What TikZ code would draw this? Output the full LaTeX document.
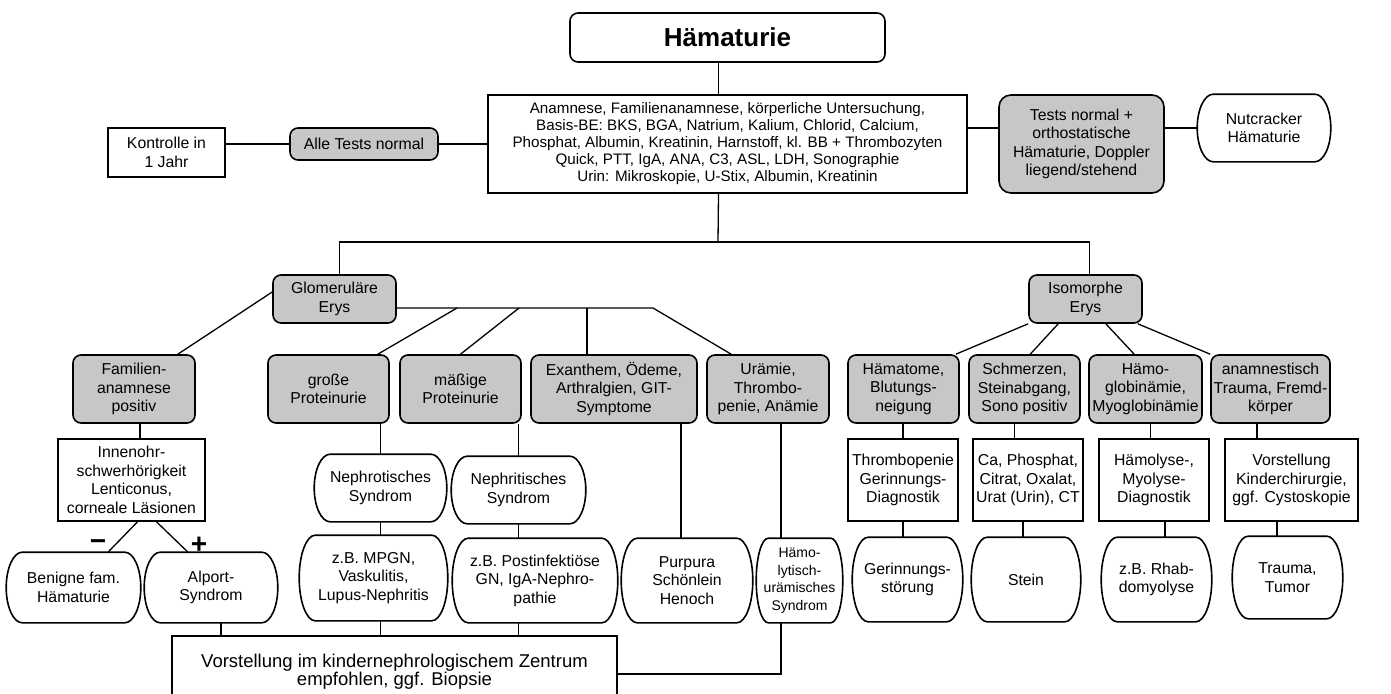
\documentclass[tikz,border=0pt]{standalone}
\usepackage{fontspec}
\setmainfont{Liberation Sans}
\usetikzlibrary{calc}

\newcommand\pillframe[2]{%
  \draw[line width=1.6pt] ([xshift=#2]#1.north west) -- ([xshift=-#2]#1.north east)
    .. controls ([xshift=-0.45*#2]#1.north east) and ($(#1.east)!0.55!(#1.north east)$) .. (#1.east)
    .. controls ($(#1.east)!0.55!(#1.south east)$) and ([xshift=-0.45*#2]#1.south east) .. ([xshift=-#2]#1.south east)
    -- ([xshift=#2]#1.south west)
    .. controls ([xshift=0.45*#2]#1.south west) and ($(#1.west)!0.55!(#1.south west)$) .. (#1.west)
    .. controls ($(#1.west)!0.55!(#1.north west)$) and ([xshift=0.45*#2]#1.north west) .. ([xshift=#2]#1.north west)
    -- cycle;}

\begin{document}
\begin{tikzpicture}[x=1pt,y=-1pt,line width=1.3pt,
    base/.style={draw,line width=1.6pt,align=center,inner sep=2pt,font=\fontsize{15.8}{18.5}\selectfont},
    graybox/.style={base,rounded corners=8pt,fill=black!22},
    whitebox/.style={base},
    pill/.style={base,draw=none},
    sign/.style={font=\fontsize{28}{28}\selectfont\bfseries,inner sep=0pt}]
          \useasboundingbox (0,0) rectangle (1391,693);
          \node (title) at (727.5,37.5) [base,rounded corners=8pt,minimum width=315pt,minimum height=49pt,font=\fontsize{26}{30}\selectfont\bfseries]
          {Hämaturie};
          \node (main) at (727.5,144) [whitebox,minimum width=479pt,minimum height=98pt,font=\fontsize{15.2}{17}\selectfont]
          {Anamnese, Familienanamnese, körperliche Untersuchung,\\Basis-BE: BKS, BGA, Natrium, Kalium, Chlorid, Calcium,\\Phosphat, Albumin, Kreatinin, Harnstoff, kl. BB + Thrombozyten\\Quick, PTT, IgA, ANA, C3, ASL, LDH, Sonographie\\Urin: Mikroskopie, U-Stix, Albumin, Kreatinin};
          \node (alle) at (364,144) [graybox,minimum width=148pt,minimum height=32pt]
          {Alle Tests normal};
          \node (kontr) at (166.5,152.5) [whitebox,minimum width=117pt,minimum height=49pt]
          {Kontrolle in\\1 Jahr};
          \node (tests) at (1081.5,144) [graybox,rounded corners=12pt,minimum width=165pt,minimum height=98pt]
          {Tests normal +\\orthostatische\\Hämaturie, Doppler\\liegend/stehend};
          \node (nutc) at (1264,128) [pill,minimum width=132pt,minimum height=66pt]
          {Nutcracker\\Hämaturie};
          \node (glom) at (334.5,299) [graybox,minimum width=123pt,minimum height=48pt]
          {Glomeruläre\\Erys};
          \node (iso) at (1085.5,299) [graybox,minimum width=113pt,minimum height=48pt]
          {Isomorphe\\Erys};
          \node (fam) at (134,389) [graybox,minimum width=122pt,minimum height=68pt]
          {Familien-\\anamnese\\positiv};
          \node (gross) at (328.5,389) [graybox,minimum width=121pt,minimum height=68pt]
          {große\\Proteinurie};
          \node (maessig) at (460.5,389) [graybox,minimum width=121pt,minimum height=68pt]
          {mäßige\\Proteinurie};
          \node (exanth) at (614,389) [graybox,minimum width=166pt,minimum height=68pt]
          {Exanthem, Ödeme,\\Arthralgien, GIT-\\Symptome};
          \node (uraem) at (768,389) [graybox,minimum width=122pt,minimum height=68pt]
          {Urämie,\\Thrombo-\\penie, Anämie};
          \node (haematome) at (903.5,389) [graybox,minimum width=111pt,minimum height=68pt]
          {Hämatome,\\Blutungs-\\neigung};
          \node (schmerz) at (1024.5,389) [graybox,minimum width=111pt,minimum height=68pt]
          {Schmerzen,\\Steinabgang,\\Sono positiv};
          \node (haemo) at (1145.5,389) [graybox,minimum width=113pt,minimum height=68pt]
          {Hämo-\\globinämie,\\Myoglobinämie};
          \node (anamn) at (1270.5,389) [graybox,minimum width=119pt,minimum height=68pt]
          {anamnestisch\\Trauma, Fremd-\\körper};
          \node (innen) at (131.5,480) [whitebox,minimum width=147pt,minimum height=82pt]
          {Innenohr-\\schwerhörigkeit\\Lenticonus,\\corneale Läsionen};
          \node (thromb) at (903,480) [whitebox,minimum width=110pt,minimum height=82pt]
          {Thrombopenie\\Gerinnungs-\\Diagnostik};
          \node (ca) at (1028,480) [whitebox,minimum width=110pt,minimum height=82pt]
          {Ca, Phosphat,\\Citrat, Oxalat,\\Urat (Urin), CT};
          \node (haemol) at (1154,480) [whitebox,minimum width=110pt,minimum height=82pt]
          {Hämolyse-,\\Myolyse-\\Diagnostik};
          \node (vorstk) at (1291.5,480) [whitebox,minimum width=133pt,minimum height=82pt]
          {Vorstellung\\Kinderchirurgie,\\ggf. Cystoskopie};
          \node (nephrot) at (380.5,488) [pill,minimum width=131pt,minimum height=66pt]
          {Nephrotisches\\Syndrom};
          \node (nephrit) at (518.5,490) [pill,minimum width=133pt,minimum height=66pt]
          {Nephritisches\\Syndrom};
          \node (benigne) at (73.5,587.5) [pill,minimum width=133pt,minimum height=69pt]
          {Benigne fam.\\Hämaturie};
          \node (alport) at (211,587.5) [pill,minimum width=132pt,minimum height=69pt]
          {Alport-\\Syndrom};
          \node (mpgn) at (373.5,578) [pill,minimum width=147pt,minimum height=84pt]
          {z.B. MPGN,\\Vaskulitis,\\Lupus-Nephritis};
          \node (postinf) at (535,580.5) [pill,minimum width=164pt,minimum height=83pt]
          {z.B. Postinfektiöse\\GN, IgA-Nephro-\\pathie};
          \node (purpura) at (687,580.5) [pill,minimum width=130pt,minimum height=83pt]
          {Purpura\\Schönlein\\Henoch};
          \node (hus) at (799.5,580.5) [pill,minimum width=85pt,minimum height=83pt,font=\fontsize{14}{17.7}\selectfont]
          {Hämo-\\lytisch-\\urämisches\\Syndrom};
          \node (gerinn) at (907.5,579.5) [pill,minimum width=109pt,minimum height=83pt]
          {Gerinnungs-\\störung};
          \node (stein) at (1026,579.5) [pill,minimum width=108pt,minimum height=83pt]
          {Stein};
          \node (rhab) at (1156.5,579.5) [pill,minimum width=109pt,minimum height=83pt]
          {z.B. Rhab-\\domyolyse};
          \node (tutu) at (1287.5,577.5) [pill,minimum width=109pt,minimum height=81pt]
          {Trauma,\\Tumor};
          \node (vorstn) at (394.5,672) [whitebox,minimum width=445pt,minimum height=72pt,font=\fontsize{18.5}{18}\selectfont]
          {Vorstellung im kindernephrologischem Zentrum\\empfohlen, ggf. Biopsie};
          \node (minus) at (98,545) [sign] {−};
          \node (plus) at (199,545) [sign] {+};

          \foreach \n in {nutc,nephrot,nephrit,benigne,alport,mpgn,postinf,purpura,gerinn,stein,rhab,tutu}
            {\pillframe{\n}{16pt}}
          \pillframe{hus}{12pt}

          \coordinate (bar) at (718,242);
          \coordinate (gbar) at (653,308);
          \coordinate (gex) at (587,308);
          \coordinate (gma) at (519,308);
          \coordinate (ggr) at (457,308);
          \draw ([xshift=-9pt]title.south) -- ([xshift=-9pt]title.south |- main.north);
          \draw ([xshift=-9pt]main.south) -- (bar);
          \draw ([xshift=5pt]glom.north) |- (bar) -| ([xshift=4pt]iso.north);
          \draw (main.west) -- (alle.east);
          \draw (alle.west) -- (alle.west -| kontr.east);
          \draw (main.east |- nutc.west) -- (tests.west |- nutc.west);
          \draw (tests.east |- nutc.west) -- (nutc.west);
          \draw (glom.east |- gbar) -- (gbar) -- ([xshift=25pt]uraem.north west);
          \draw (gex) -- (gex |- exanth.north);
          \draw (gma) -- (maessig.north);
          \draw (ggr) -- ([xshift=-12pt]gross.north east);
          \draw ([yshift=7pt]glom.west) -- ([xshift=-18pt]fam.north east);
          \draw (iso.south west) -- ([xshift=-4pt]haematome.north east);
          \draw ([xshift=30pt]iso.south west) -- ([xshift=62pt]schmerz.north west);
          \draw ([xshift=-37pt]iso.south east) -- ([xshift=46pt]haemo.north west);
          \draw ([xshift=-5pt]iso.south east) -- (anamn.north west);
          \draw ([xshift=6pt]fam.south) -- ([xshift=6pt]fam.south |- innen.north);
          \draw ([xshift=6pt]innen.south) -- ([xshift=34.5pt]benigne.north);
          \draw ([xshift=25pt]innen.south) -- ([xshift=-23pt]alport.north);
          \draw ([xshift=10pt]alport.south) -- ([xshift=10pt]alport.south |- vorstn.north);
          \draw (gross.south -| nephrot.north) -- (nephrot.north);
          \draw (nephrot.south) -- (nephrot.south |- mpgn.north);
          \draw (mpgn.south -| nephrot.south) -- (nephrot.south |- vorstn.north);
          \draw (maessig.south -| nephrit.north) -- (nephrit.north);
          \draw (nephrit.south) -- (nephrit.south |- postinf.north);
          \draw (postinf.south -| nephrit.south) -- (nephrit.south |- vorstn.north);
          \draw ([xshift=-6pt]purpura.north) -- ([xshift=-6pt]purpura.north |- exanth.south);
          \draw ([xshift=-18.5pt]hus.north) -- ([xshift=-18.5pt]hus.north |- uraem.south);
          \draw ([xshift=-18.5pt]hus.south) |- ([yshift=-2pt]vorstn.east);
          \draw (haematome.south -| thromb.north) -- (thromb.north);
          \draw (thromb.south) -- (thromb.south |- gerinn.north);
          \draw ([xshift=-10pt]schmerz.south) -- ([xshift=-10pt]schmerz.south |- ca.north);
          \draw ([xshift=-3pt]stein.north) -- ([xshift=-3pt]stein.north |- ca.south);
          \draw ([xshift=5pt]haemo.south) -- ([xshift=5pt]haemo.south |- haemol.north);
          \draw ([xshift=8.5pt]rhab.north) -- ([xshift=8.5pt]rhab.north |- haemol.south);
          \draw ([xshift=-13.5pt]anamn.south) -- ([xshift=-13.5pt]anamn.south |- vorstk.north);
          \draw ([xshift=-10.5pt]tutu.north) -- ([xshift=-10.5pt]tutu.north |- vorstk.south);
        \end{tikzpicture}
\end{document}
